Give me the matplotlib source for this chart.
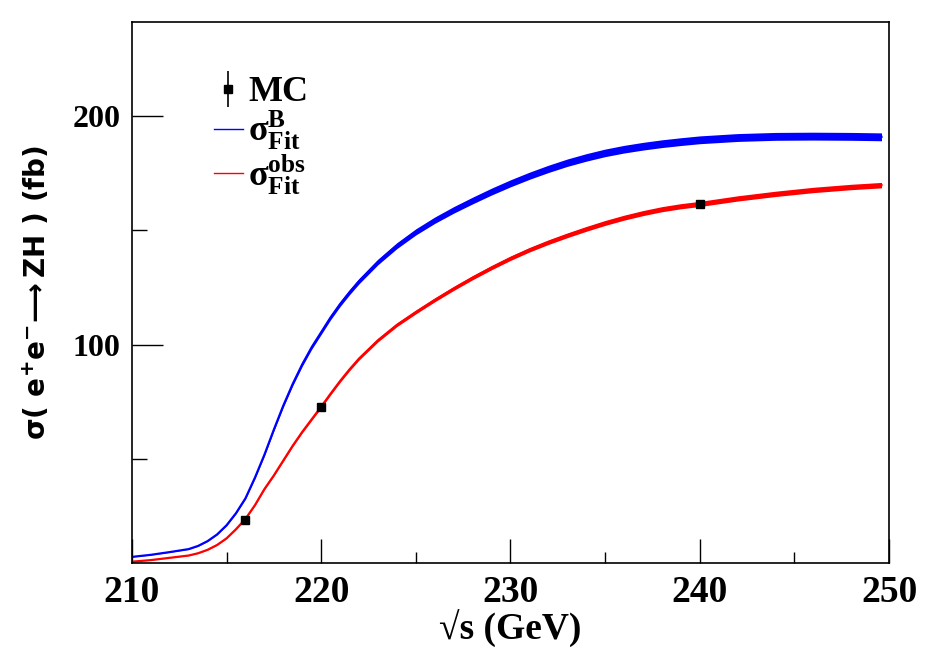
import numpy as np
import matplotlib
matplotlib.use("Agg")
import matplotlib.pyplot as plt
from matplotlib.lines import Line2D

plt.rcParams['font.family'] = ['Liberation Serif', 'DejaVu Serif']
plt.rcParams['font.weight'] = 'bold'
plt.rcParams['mathtext.fontset'] = 'custom'
plt.rcParams['mathtext.bf'] = 'Liberation Serif:bold'
plt.rcParams['mathtext.rm'] = 'Liberation Serif:bold'
plt.rcParams['mathtext.it'] = 'Liberation Serif:bold:italic'
plt.rcParams['mathtext.default'] = 'bf'

# energia (GeV)
sqrt_s = [210.0, 211.0, 212.0, 213.0, 213.5, 214.0, 214.5, 215.0, 215.5, 216.0,
          216.5, 217.0, 217.5, 218.0, 218.5, 219.0, 219.5, 220.0, 220.5, 221.0,
          221.5, 222.0, 223.0, 224.0, 225.0, 226.0, 227.0, 228.0, 229.0, 230.0,
          231.0, 232.0, 233.0, 234.0, 235.0, 236.0, 237.0, 238.0, 239.0, 240.0,
          242.0, 244.0, 246.0, 248.0, 249.6]

# sigma_Fit^B (fb)
sigma_B = [7.4, 8.3, 9.5, 10.8, 12.2, 14.3, 17.2, 21.2, 26.5, 33.0,
           42.0, 52.0, 63.0, 73.5, 83.0, 91.5, 99.0, 105.5, 112.0, 117.8,
           123.0, 127.8, 136.2, 143.3, 149.3, 154.4, 158.9, 163.0, 166.9, 170.5,
           173.8, 176.8, 179.5, 181.8, 183.8, 185.4, 186.7, 187.8, 188.7, 189.5,
           190.5, 191.0, 191.1, 191.0, 190.8]

# sigma_Fit^obs (fb)
sigma_obs = [5.3, 6.0, 7.0, 8.0, 9.0, 10.5, 12.6, 15.5, 19.5, 24.0,
             30.0, 37.0, 43.0, 49.5, 56.0, 62.0, 67.5, 73.0, 78.7, 84.2,
             89.3, 94.0, 102.0, 108.7, 114.3, 119.6, 124.6, 129.3, 133.7, 137.8,
             141.5, 144.8, 147.8, 150.6, 153.2, 155.5, 157.5, 159.2, 160.5, 161.5,
             163.9, 165.9, 167.6, 168.9, 169.7]

# incertidumbre relativa de los fits
rel_B = 0.009
rel_obs = 0.007

# puntos MC
mc_x = [216.0, 220.0, 240.0]
mc_y = [23.3, 73.0, 161.3]
mc_err = [0.5, 0.6, 0.8]

x = np.array(sqrt_s)
yB = np.array(sigma_B)
yO = np.array(sigma_obs)

fig = plt.figure(figsize=(9.29, 6.56), dpi=100)
ax = fig.add_axes([0.142, 0.142, 0.815, 0.8247])

ax.fill_between(x, yB * (1 - rel_B), yB * (1 + rel_B), color='#0000ff', lw=0)
ax.plot(x, yB, color='#0000ff', lw=1.6)
ax.fill_between(x, yO * (1 - rel_obs), yO * (1 + rel_obs), color='#ff0000', lw=0)
ax.plot(x, yO, color='#ff0000', lw=1.6)
ax.errorbar(mc_x, mc_y, yerr=mc_err, fmt='s', color='black', ms=6, lw=1.2, zorder=5)

ax.set_xlim(210, 250)
ax.set_ylim(4.8, 241)
ax.set_xticks([210, 220, 230, 240, 250])
ax.set_xticks([215, 225, 235, 245], minor=True)
ax.set_yticks([100, 200])
ax.set_yticks([50, 150], minor=True)
ax.tick_params(axis='both', which='both', direction='in', width=1)
ax.tick_params(axis='x', which='major', length=17, pad=9, labelsize=27)
ax.tick_params(axis='x', which='minor', length=8)
ax.tick_params(axis='y', which='major', length=22, pad=8, labelsize=23)
ax.tick_params(axis='y', which='minor', length=11)
for lab in ax.get_xticklabels() + ax.get_yticklabels():
    lab.set_fontweight('bold')
for sp_ in ax.spines.values():
    sp_.set_linewidth(1.2)

ax.set_xlabel('√s (GeV)', fontsize=27, fontweight='bold', labelpad=0)
ax.set_ylabel(r'$\mathbf{\sigma(\ e^{+}e^{-}\!\longrightarrow ZH\ )\ (fb)}$',
              fontsize=20, labelpad=15, math_fontfamily='dejavusans')

handles = [
    ax.errorbar([], [], yerr=[], fmt='s', color='black', ms=6, lw=1.2),
    Line2D([], [], color='#0000ff', lw=1),
    Line2D([], [], color='#ff0000', lw=1),
]
labels = ['MC', r'$\sigma^{B}_{Fit}$', r'$\sigma^{obs}_{Fit}$']
leg = ax.legend(handles, labels, loc='upper left', bbox_to_anchor=(0.108, 0.90),
                frameon=False, fontsize=26, handlelength=0.8, handletextpad=0.15,
                labelspacing=0.0, borderpad=0, borderaxespad=0)

fig.savefig('out.png', dpi=100)
